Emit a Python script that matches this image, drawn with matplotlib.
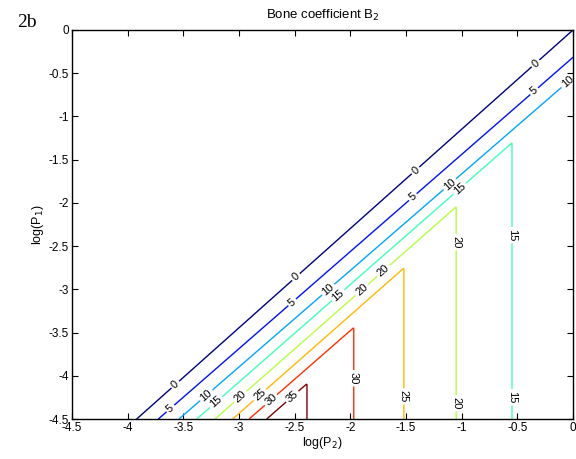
import numpy as np
import matplotlib
matplotlib.use('Agg')
import matplotlib.pyplot as plt
from matplotlib.ticker import FuncFormatter

plt.rcParams['axes.unicode_minus'] = False
plt.rcParams['font.family'] = ['Liberation Sans', 'DejaVu Sans']

# contour levels, where each diagonal contour meets log(P1) = -4.5, and its slope
levels = [0, 5, 10, 15, 20, 25, 30, 35]
diag_x_bottom = [-3.92, -3.725, -3.54, -3.38, -3.216, -3.058, -2.91, -2.752]
diag_slope = [1.148, 1.123, 1.116, 1.128, 1.133, 1.135, 1.125, 1.13]
# positions of the vertical contour segments (35 .. 15)
vert_levels = [35, 30, 25, 20, 15]
vert_x = [-2.39, -1.97, -1.52, -1.05, -0.55]

# label positions (pixels)
label_pix = [(537, 65), (417, 172), (298, 279), (176, 385),
             (535, 92), (413, 197), (292, 302), (172, 410),
             (566, 80), (448, 182), (327, 288), (208, 397),
             (460, 189), (339, 296), (218, 404), (512, 235), (512, 397),
             (363, 291), (242, 398), (456, 242), (456, 403),
             (381, 268), (262, 397), (403, 396),
             (273, 402), (354, 378),
             (293, 397)]

def pix2data(px, py):
    return ((px - 72) / 111.4 - 4.5, -(py - 30) / 86.4)

x = np.linspace(-4.5, 0, 700)
y = np.linspace(-4.5, 0, 700)
X, Y = np.meshgrid(x, y)

Zd = np.zeros_like(X)
for j, xv in enumerate(x):
    yl = [-4.5 + s * (xv - xb) for s, xb in zip(diag_slope, diag_x_bottom)]
    yp = [-(yl[0] + 2)] + [-v for v in yl] + [-(yl[-1] - 2)]
    Zd[:, j] = np.interp(-y, yp, [-55] + levels + [90])
gx = [-4.6] + vert_x + [0.1]
gf = [60] + vert_levels + [12]
Zv = np.interp(X.ravel(), gx, gf).reshape(X.shape)
Z = np.minimum(Zd, Zv)

fig = plt.figure(figsize=(5.76, 4.59), dpi=100)
ax = fig.add_axes([0.125, 0.087, 0.87, 0.848])

cs = ax.contour(X, Y, Z, levels=levels, cmap='jet', vmin=0, vmax=35, linewidths=1.0)
manual = [pix2data(px, py) for px, py in label_pix]
txts = ax.clabel(cs, fmt='%d', fontsize=8, inline=True, inline_spacing=2, manual=manual)
for t in txts:
    t.set_color('black')
    r = t.get_rotation()
    if abs(r - 90) < 5:
        t.set_rotation(-90)

ax.set_xlim(-4.5, 0)
ax.set_ylim(-4.5, 0)
ax.set_xticks(np.arange(-4.5, 0.01, 0.5))
ax.set_yticks(np.arange(-4.5, 0.01, 0.5))
fmt = FuncFormatter(lambda v, p: '%g' % round(v, 2))
ax.xaxis.set_major_formatter(fmt)
ax.yaxis.set_major_formatter(fmt)
ax.tick_params(direction='in', top=True, right=True, labelsize=8.5, length=4, width=0.8, pad=2)
for s in ax.spines.values():
    s.set_linewidth(1.0)

ax.set_xlabel('log(P$_2$)', fontsize=9, labelpad=1)
ax.set_ylabel('log(P$_1$)', fontsize=9, labelpad=2)
ax.set_title('Bone coefficient B$_2$', fontsize=9.5, pad=8)
fig.text(0.03, 0.95, '2b', fontsize=14, family='Liberation Serif', va='center')

fig.savefig('out.png', dpi=100)
